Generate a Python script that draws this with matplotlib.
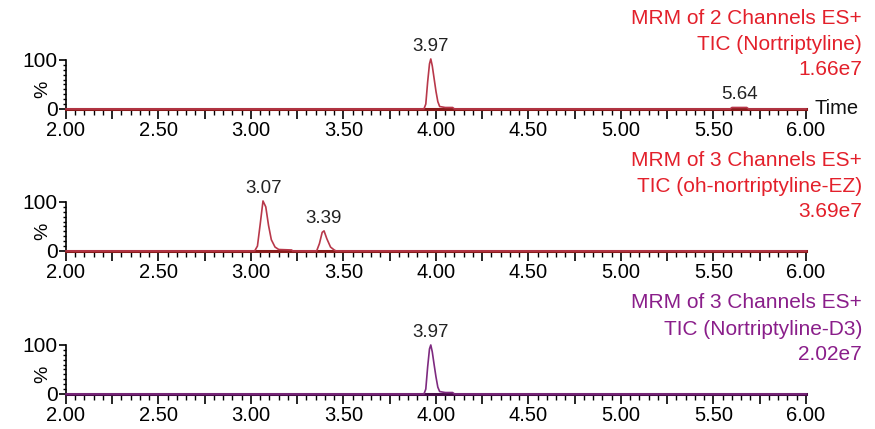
import matplotlib
matplotlib.use('Agg')
import matplotlib.pyplot as plt
import numpy as np

# chromatogram traces (time in min, relative intensity in %)
t_nortrip = [2.00, 3.935, 3.945, 3.955, 3.965, 3.972, 3.98, 3.99, 4.00, 4.01, 4.02, 4.05, 4.09, 4.10,
             5.59, 5.60, 5.68, 5.69, 6.00]
i_nortrip = [0, 0, 10, 55, 92, 102, 88, 62, 36, 15, 5, 3, 3, 0,
             0, 3, 3, 0, 0]

t_oh = [2.00, 3.02, 3.035, 3.05, 3.065, 3.08, 3.095, 3.11, 3.13, 3.15, 3.22, 3.225,
        3.355, 3.37, 3.385, 3.395, 3.41, 3.43, 3.45, 3.46, 6.00]
i_oh = [0, 0, 10, 55, 102, 90, 52, 23, 8, 3, 2, 0,
        0, 15, 38, 41, 25, 8, 2, 0, 0]

t_d3 = [2.00, 3.935, 3.945, 3.955, 3.965, 3.972, 3.98, 3.99, 4.00, 4.01, 4.02, 4.05, 4.09, 4.10, 6.00]
i_d3 = [0, 0, 10, 55, 92, 100, 86, 60, 35, 14, 5, 3, 3, 0, 0]

# peak labels
peaks_nortrip = [(3.97, 102, '3.97'), (5.64, 3, '5.64')]
peaks_oh = [(3.07, 102, '3.07'), (3.39, 41, '3.39')]
peaks_d3 = [(3.97, 100, '3.97')]

titles = [
    ['MRM of 2 Channels ES+', 'TIC (Nortriptyline)', '1.66e7'],
    ['MRM of 3 Channels ES+', 'TIC (oh-nortriptyline-EZ)', '3.69e7'],
    ['MRM of 3 Channels ES+', 'TIC (Nortriptyline-D3)', '2.02e7'],
]

x_ticks = [2.00, 2.25, 2.50, 2.75, 3.00, 3.25, 3.50, 3.75, 4.00, 4.25, 4.50, 4.75, 5.00, 5.25, 5.50, 5.75, 6.00]
x_tick_labels = ['2.00', '', '2.50', '', '3.00', '', '3.50', '', '4.00', '', '4.50', '', '5.00', '', '5.50', '', '6.00']
y_ticks = [0, 100]

plt.rcParams['font.family'] = ['Liberation Sans', 'DejaVu Sans']

fig = plt.figure(figsize=(8.75, 4.29), dpi=100)

red_text = '#e3202b'
red_line = '#b8384a'
red_base = '#8a1c1c'
pur_text = '#8a1e8a'
pur_line = '#7e2a80'
pur_base = '#4a0c4a'

panels = [
    (0.746, t_nortrip, i_nortrip, peaks_nortrip, titles[0], red_text, red_line, red_base, 0.958),
    (0.415, t_oh, i_oh, peaks_oh, titles[1], red_text, red_line, red_base, 0.627),
    (0.0816, t_d3, i_d3, peaks_d3, titles[2], pur_text, pur_line, pur_base, 0.294),
]

for bottom, t, inten, peaks, title, tcol, lcol, bcol, ttop in panels:
    ax = fig.add_axes([0.0754, bottom, 0.8457, 0.1257])
    ax.plot(t, inten, color=lcol, linewidth=1.2, clip_on=False, zorder=3)
    ax.plot([2.0, 6.0], [0, 0], color=bcol, linewidth=2.2, clip_on=False, zorder=2)
    ax.set_xlim(2.0, 6.0)
    ax.set_ylim(0, 110)
    for s in ['top', 'right']:
        ax.spines[s].set_visible(False)
    ax.spines['bottom'].set_visible(False)
    ax.spines['left'].set_linewidth(1.2)
    ax.spines['left'].set_bounds(0, 100)

    ax.set_xticks(x_ticks)
    ax.set_xticklabels(x_tick_labels)
    ax.set_xticks(np.arange(2.0, 6.001, 0.05), minor=True)
    ax.tick_params(axis='x', which='major', length=7, width=1.2, pad=1.5, labelsize=14.5)
    ax.tick_params(axis='x', which='minor', length=4, width=1.0)

    ax.set_yticks(y_ticks)
    ax.set_yticklabels(['0', '100'])
    ax.set_yticks(np.arange(0, 101, 10), minor=True)
    ax.tick_params(axis='y', which='major', length=5, width=1.2, pad=1, labelsize=15)
    ax.tick_params(axis='y', which='minor', length=2.5, width=1.0)
    ax.text(-0.031, 0.36, '%', transform=ax.transAxes, rotation=90, ha='center', va='center',
            fontsize=14)

    for px, py, lab in peaks:
        ax.annotate(lab, (px, py), xytext=(0, 3), textcoords='offset points',
                    ha='center', va='bottom', fontsize=13.5, color='#222222')

    fig.text(0.985, ttop, title[0], ha='right', va='center', fontsize=15, color=tcol)
    fig.text(0.985, ttop - 0.061, title[1], ha='right', va='center', fontsize=15, color=tcol)
    fig.text(0.985, ttop - 0.121, title[2], ha='right', va='center', fontsize=15, color=tcol)

    if bottom > 0.7:
        ax.text(1.012, 0, 'Time', transform=ax.get_yaxis_transform(), ha='left', va='center',
                fontsize=14.5, color='#111111')

fig.savefig('out.png', dpi=100)
